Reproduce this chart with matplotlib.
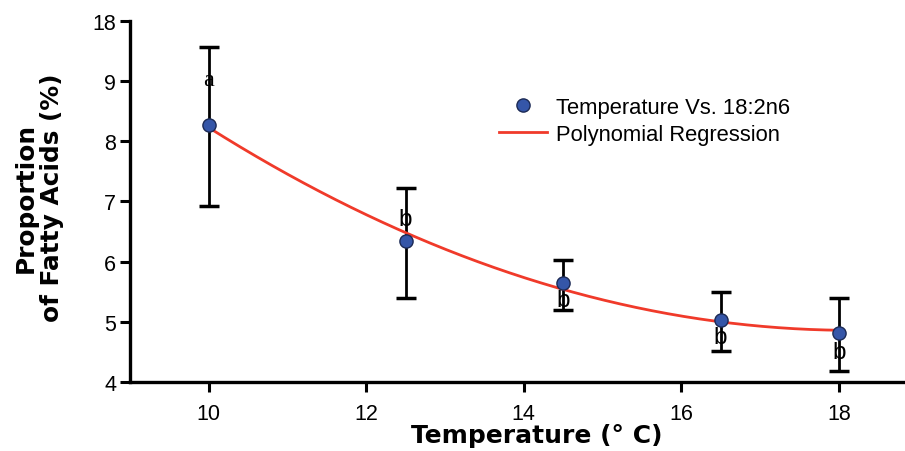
import numpy as np
import matplotlib
matplotlib.use("Agg")
import matplotlib.pyplot as plt

# Temperature vs. 18:2n6 proportion
temps      = [10, 12.5, 14.5, 16.5, 18]
means      = [8.27, 6.34, 5.64, 5.03, 4.82]
err_hi     = [9.56, 7.23, 6.03, 5.50, 5.40]
err_lo     = [6.92, 5.40, 5.20, 4.51, 4.19]
letters    = ["a", "b", "b", "b", "b"]
letter_y   = [9.03, 6.70, 5.37, 4.74, 4.49]

yticks      = [4, 5, 6, 7, 8, 9, 10]
ytick_labels = ["4", "5", "6", "7", "8", "9", "18"]
xticks      = [10, 12, 14, 16, 18]

means = np.array(means)
yerr = np.vstack([means - np.array(err_lo), np.array(err_hi) - means])

# polynomial regression through the means
coef = np.polyfit(temps, means, 2)
xfit = np.linspace(10, 18, 200)
yfit = np.polyval(coef, xfit)

fig = plt.figure(figsize=(9.05, 4.52), dpi=100)
ax = fig.add_axes([130/905, 1 - 383/452, 775/905, (383 - 21.7)/452])

ax.errorbar(temps, means, yerr=yerr, fmt="none", ecolor="black",
            elinewidth=2.0, capsize=7.2, capthick=2.5, zorder=2)
ax.plot(xfit, yfit, color="#f03a2a", lw=2.0, zorder=3,
        label="Polynomial Regression")
ax.plot(temps, means, "o", color="#3556a8", mec="#1c2a55", mew=1.0,
        ms=9.5, zorder=4, linestyle="none", label="Temperature Vs. 18:2n6")

for x, y, s in zip(temps, letter_y, letters):
    fam = "Liberation Serif" if s == "a" else "Liberation Sans"
    ax.text(x, y, s, ha="center", va="center", fontsize=17.5,
            family=fam, zorder=5)

ax.set_xlim(9, 18.84)
ax.set_ylim(4, 10)
ax.set_xticks(xticks)
ax.set_yticks(yticks)
ax.set_yticklabels(ytick_labels)

for side in ["top", "right"]:
    ax.spines[side].set_visible(False)
for side in ["left", "bottom"]:
    ax.spines[side].set_linewidth(2.4)
ax.tick_params(axis="both", direction="out", length=7, width=2.2,
               labelsize=15.5, pad=8)
for lab in ax.get_xticklabels() + ax.get_yticklabels():
    lab.set_family("Liberation Sans")
ax.tick_params(axis="y", pad=3)

ax.set_xlabel("Temperature (° C)", fontsize=18, fontweight="bold",
              family="DejaVu Sans")
ax.xaxis.set_label_coords((537 - 130) / 775, -(424 - 383) / 361)
ax.set_ylabel("Proportion\nof Fatty Acids (%)", fontsize=17.8,
              fontweight="bold", family="DejaVu Sans", linespacing=1.1)
ax.yaxis.set_label_coords(-(130 - 64) / 775, 1 - (198 - 21.7) / 361)

handles, labels = ax.get_legend_handles_labels()
leg = ax.legend(handles[::-1], labels[::-1], loc="upper left",
                bbox_to_anchor=((490 - 130) / 775, 1 - (89 - 21.7) / 361),
                frameon=False, prop={"family": "Liberation Sans", "size": 15.8},
                handlelength=2.2, handletextpad=0.4, labelspacing=0.28,
                borderaxespad=0)

fig.savefig("out.png", dpi=100)
